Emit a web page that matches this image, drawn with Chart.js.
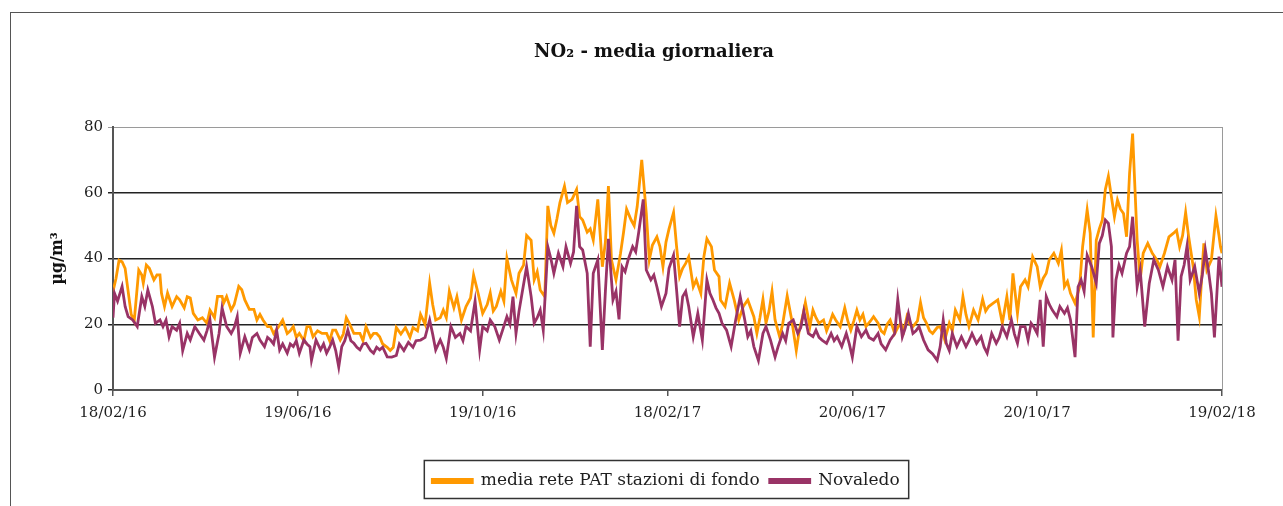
<!DOCTYPE html>
<html lang="it">
<head>
<meta charset="utf-8">
<title>NO2 - media giornaliera</title>
<script src="https://cdn.jsdelivr.net/npm/chart.js@4.4.1/dist/chart.umd.min.js"></script>
<style>
  html, body { margin: 0; padding: 0; background: #fff; overflow: hidden; width: 1283px; height: 506px; }
  #cornice { position: absolute; left: 10px; top: 12px; width: 1300px; height: 520px; border: 1px solid #555; }
  #box { position: absolute; left: 0; top: 0; width: 1283px; height: 506px; }
</style>
</head>
<body>
<div id="cornice"></div>
<div id="box"><canvas id="grafico"></canvas></div>
<script>
// asse x: giorni dal 18/02/16
const tickGiorni = [0, 122, 244, 366, 488, 610, 732];
const etichetteX = ["18/02/16", "19/06/16", "19/10/16", "18/02/17", "20/06/17", "20/10/17", "19/02/18"];

// media rete PAT stazioni di fondo
const giorniRete = [
  0, 2, 4, 6, 8, 10, 12, 14, 17, 19, 20, 22, 24, 27, 29, 31, 32, 34, 36, 39,
  42, 44, 47, 49, 51, 53, 56, 59, 62, 64, 67, 69, 72, 73, 75, 78, 80, 83, 85, 87,
  90, 93, 95, 97, 99, 102, 104, 106, 109, 112, 115, 117, 119, 121, 123, 126, 128, 130, 132, 135,
  138, 141, 143, 145, 147, 150, 152, 154, 156, 159, 163, 165, 167, 170, 172, 174, 176, 178, 181, 183,
  185, 187, 190, 193, 196, 198, 201, 203, 206, 209, 211, 213, 216, 218, 220, 222, 225, 227, 230, 233,
  236, 238, 241, 244, 247, 249, 251, 253, 256, 258, 260, 263, 266, 268, 271, 273, 276, 278, 280, 282,
  285, 287, 289, 291, 293, 295, 298, 300, 303, 306, 308, 310, 313, 315, 317, 320, 323, 325, 327, 329,
  332, 335, 337, 339, 342, 344, 346, 349, 352, 354, 356, 359, 361, 363, 365, 367, 370, 372, 374, 376,
  378, 380, 383, 385, 388, 390, 392, 395, 397, 400, 401, 404, 407, 410, 413, 416, 419, 423, 425, 427,
  429, 431, 433, 435, 437, 440, 442, 445, 448, 451, 453, 455, 457, 460, 462, 464, 466, 469, 471, 473,
  475, 477, 480, 483, 485, 487, 489, 491, 493, 495, 497, 500, 502, 505, 507, 509, 511, 513, 516, 518,
  520, 522, 524, 526, 528, 531, 533, 535, 537, 539, 541, 544, 546, 549, 552, 554, 556, 559, 561, 563,
  565, 568, 571, 574, 576, 578, 581, 584, 587, 590, 592, 594, 597, 599, 602, 604, 607, 610, 612, 614,
  616, 618, 621, 624, 626, 628, 630, 632, 635, 638, 640, 643, 645, 647, 649, 651, 653, 655, 657, 659,
  661, 663, 665, 667, 669, 671, 673, 676, 678, 680, 683, 686, 689, 691, 694, 697, 700, 702, 704, 706,
  708, 710, 713, 715, 717, 720, 722, 725, 728, 730, 731, 732
];
const valoriRete = [
  30, 34, 39.5, 39, 37, 30, 23, 21, 36.5, 35, 32.5, 38, 37, 33.5, 35, 35, 29.4, 25.4, 29.5, 25.4,
  28.4, 27.4, 25, 28.4, 28, 23.3, 21.3, 22, 20.3, 24.3, 22, 28.5, 28.5, 26.4, 28.4, 24.3, 26, 31.5, 30.5, 27.4,
  24.5, 24.5, 21.3, 23, 21.3, 19.3, 19.3, 17.2, 19, 21.3, 17.2, 18, 19.3, 16, 17.2, 15, 19.3, 19.3, 16.2, 18,
  17.2, 17.2, 15, 18.2, 18.2, 15.2, 17, 22, 20.3, 17.2, 17.2, 15, 19.3, 16, 17.2, 17.2, 16.2, 14, 13, 12,
  13, 19, 17, 19, 16, 19, 18, 23, 20, 32.5, 26, 21.3, 22, 24.3, 22, 30, 25, 28.4, 21.3, 25.4,
  28, 35, 29.4, 23.3, 26, 29.5, 24, 25.4, 30, 27, 40, 33.5, 29.4, 35.5, 38, 47, 45.5, 33.5, 36, 30.4,
  28.4, 56, 50, 47.7, 52, 57, 62, 57, 58, 61, 52.7, 51.7, 48, 49, 45.6, 58, 37.5, 45, 62, 39.6,
  33.5, 41.6, 48, 55, 51.7, 50, 55.8, 70, 53.7, 39.6, 44, 46.6, 43.6, 37.5, 45, 49, 54, 43.6, 34.5, 37,
  38.5, 40.5, 31.4, 33.5, 29.4, 40.5, 46, 43.6, 36.5, 34.5, 27.4, 25.4, 32.5, 27.4, 21.3, 25.4, 27.4, 22.3, 17.2, 22,
  27.6, 20.3, 24, 30, 21.3, 16.2, 20, 28.6, 21.3, 12, 18.2, 22, 26.6, 19.3, 24.3, 22, 20.3, 21.3, 18, 20.3,
  23, 21.3, 19.3, 25, 21, 18.2, 21, 24.3, 21.3, 23, 19.3, 21, 22.3, 20.3, 18, 17.2, 20, 21.3, 17.2, 19,
  20.3, 18, 22.3, 20, 19.3, 21, 26.6, 22, 20.3, 18, 17.2, 19, 19.3, 15.2, 20.3, 18, 24.3, 21.3, 28.4, 23,
  19.3, 24.3, 21.3, 27.6, 24, 25.4, 26.4, 27.4, 20.3, 28.4, 21.3, 35.5, 23.3, 31.4, 33.5, 31.4, 40.5, 37.5, 31.4, 34,
  35.5, 39.6, 41.6, 38.5, 42.5, 31.4, 33, 29.4, 26.4, 31.4, 43.6, 54.8, 47.7, 16, 45.6, 49, 51.7, 61, 65, 58.8,
  52.7, 57.8, 55, 53.7, 46.6, 66, 78, 45.6, 33.5, 41.6, 44.6, 41.6, 39.6, 37.5, 41.6, 46.6, 47.7, 48.6, 43.6, 47,
  54, 46.6, 37.5, 27.4, 22.3, 44.6, 36.5, 39.6, 53, 47, 43.6, 41.6
];

// Novaledo
const giorniNovaledo = [
  0, 1, 3, 6, 8, 10, 13, 16, 19, 21, 23, 26, 28, 31, 33, 35, 37, 39, 42, 44,
  46, 49, 51, 54, 57, 60, 62, 64, 67, 70, 72, 75, 78, 80, 82, 84, 87, 90, 92, 95,
  97, 100, 102, 104, 106, 108, 110, 112, 115, 117, 119, 121, 123, 126, 128, 130, 131, 134, 137, 139,
  141, 143, 145, 147, 149, 151, 153, 155, 157, 159, 161, 163, 165, 167, 170, 172, 174, 176, 178, 181,
  184, 187, 189, 192, 195, 198, 200, 203, 206, 209, 211, 213, 216, 218, 220, 223, 226, 229, 231, 233,
  236, 239, 242, 244, 247, 249, 252, 255, 257, 260, 262, 264, 266, 268, 270, 273, 276, 278, 280, 282,
  284, 287, 289, 291, 294, 297, 299, 302, 304, 306, 308, 310, 313, 315, 317, 320, 323, 325, 327, 330,
  332, 334, 336, 338, 340, 343, 345, 347, 350, 352, 355, 357, 359, 362, 365, 367, 370, 372, 374, 376,
  378, 380, 383, 386, 389, 392, 394, 396, 398, 400, 402, 405, 408, 411, 414, 417, 419, 421, 423, 426,
  429, 431, 434, 437, 439, 442, 444, 446, 449, 452, 454, 456, 459, 462, 464, 466, 468, 471, 474, 476,
  478, 481, 484, 486, 488, 491, 494, 497, 499, 502, 505, 507, 510, 513, 516, 518, 521, 523, 525, 528,
  530, 532, 535, 538, 541, 544, 546, 548, 550, 552, 554, 557, 560, 563, 565, 567, 570, 573, 575, 577,
  580, 583, 585, 587, 590, 593, 595, 597, 599, 602, 604, 606, 608, 610, 612, 614, 616, 618, 620, 623,
  625, 628, 630, 632, 635, 637, 639, 641, 643, 646, 649, 651, 653, 655, 657, 659, 660, 662, 664, 666,
  669, 671, 673, 676, 678, 681, 684, 687, 690, 693, 696, 699, 701, 703, 705, 707, 709, 711, 714, 717,
  719, 721, 723, 725, 727, 730, 732
];
const valoriNovaledo = [
  22, 29.4, 27, 31.5, 25.4, 22.3, 21.3, 19.3, 28.4, 25.4, 30.4, 25.4, 20.3, 21.3, 19.3, 21.3, 16.2, 19.3, 18.2, 20.3,
  12, 17.2, 15.2, 19.3, 17.2, 15.2, 18, 21.3, 10, 17.2, 25, 19.3, 17.2, 19, 22.3, 11.2, 16.2, 12.2, 16, 17.2,
  15.2, 13.2, 16, 15.2, 14, 18.2, 12.2, 14, 11.2, 14, 13.2, 15, 11.2, 15.2, 14, 13.2, 9, 15.2, 12.2, 14,
  11.2, 13, 15.2, 12, 7, 13.2, 15, 18.2, 15, 14.2, 13, 12.2, 14, 14.2, 12, 11.2, 13, 12.2, 13, 10.1,
  10, 10.5, 14, 12, 14.5, 13, 15, 15.2, 16, 21.3, 17, 12.2, 15.2, 13, 9.6, 19.3, 16, 17.2, 15, 19.3,
  18, 27, 12.2, 19.3, 18, 21.3, 19.3, 15.2, 18, 22.3, 20, 28.4, 17.2, 24, 29.4, 37.5, 28.4, 20.3, 22, 24.3,
  18.2, 43.6, 40, 35.5, 41.6, 37.5, 43.6, 38.5, 42, 56, 43.6, 42.6, 35.5, 13.2, 35.5, 39.6, 12.2, 30, 46, 27.4,
  30, 21.5, 37.5, 36, 39.6, 43.6, 42, 48, 58, 36.5, 33.5, 35, 31.4, 25.4, 29.4, 37, 41, 30.4, 19.3, 28.4,
  30, 25.4, 16.2, 23.3, 15.2, 33.5, 29.4, 27.4, 25, 23.3, 20.3, 18.2, 13.2, 21.3, 28.4, 21.3, 16.2, 18, 13.2, 9,
  17.2, 19.3, 15.2, 10, 13.2, 17.2, 15, 20.3, 21.3, 17.2, 19, 24, 17.2, 16.2, 18.2, 16, 15.2, 14.2, 17.2, 15,
  16.2, 13.2, 17.2, 14, 10, 19.3, 16.2, 18.2, 16, 15.2, 17.2, 14, 12.2, 15.2, 17.2, 27.5, 16.2, 19, 23.3, 17.2,
  18, 19.3, 15.2, 12.2, 11, 9, 13.2, 21.3, 14.2, 12, 17.2, 13.2, 16.2, 13.2, 15, 17.2, 14.2, 16.2, 13, 11.2,
  17.2, 14.2, 16, 19.3, 16.2, 21.3, 17, 14.2, 19.3, 19.3, 15.2, 20.3, 19, 17.2, 27.4, 13.2, 28.4, 26, 24.3, 22.3,
  25.4, 23.3, 25, 21.3, 10, 31.4, 33.5, 30, 41, 37.5, 32.5, 44.6, 47, 51.7, 50.7, 43.6, 16, 33.5, 38, 35.5,
  41.6, 43.6, 52.7, 31.4, 36.5, 19.3, 32.5, 39.6, 36.5, 31.4, 37.5, 33.5, 39.6, 15, 34.5, 38, 44, 33.5, 37.5, 29.4,
  35, 42.6, 36.5, 29.4, 16, 40.6, 31.4
];

const serif = "'DejaVu Serif', 'Liberation Serif', serif";
const coloreTesto = "#1e1e1e";

const punti = (giorni, valori) => giorni.map((g, i) => ({ x: g, y: valori[i] }));

// sposta titolo e legenda come nel grafico Excel, e disegna i riquadri
const ritocchi = {
  id: "ritocchi",
  afterLayout(chart) {
    const t = chart.titleBlock;
    const dt = 654 - (t.left + t.right) / 2;
    t.left += dt; t.right += dt;
    const lg = chart.legend;
    const dl = 666 - (lg.left + lg.right) / 2;
    lg.left += dl; lg.right += dl;
  },
  beforeDatasetsDraw(chart) {
    const { ctx, chartArea: a } = chart;
    ctx.save();
    ctx.strokeStyle = "#9a9a9a";
    ctx.lineWidth = 1;
    ctx.beginPath();
    ctx.moveTo(a.right + 0.5, a.top);
    ctx.lineTo(a.right + 0.5, a.bottom);
    ctx.stroke();
    ctx.restore();
  },
  afterDraw(chart) {
    const lg = chart.legend;
    const hb = lg.legendHitBoxes;
    if (!hb || !hb.length) return;
    const ctx = chart.ctx;
    const l = hb[0].left - 8;
    const r = hb[hb.length - 1].left + hb[hb.length - 1].width + 9;
    ctx.save();
    ctx.strokeStyle = "#333";
    ctx.lineWidth = 1.5;
    ctx.strokeRect(l, lg.top - 2, r - l, lg.bottom - lg.top + 1);
    ctx.restore();
  }
};

const ctx = document.getElementById("grafico").getContext("2d");
new Chart(ctx, {
  type: "line",
  data: {
    datasets: [
      {
        label: "media rete PAT stazioni di fondo",
        data: punti(giorniRete, valoriRete),
        borderColor: "#FF9900",
        backgroundColor: "#FF9900",
        borderWidth: 2.8,
        pointRadius: 0,
        tension: 0,
        order: 1
      },
      {
        label: "Novaledo",
        data: punti(giorniNovaledo, valoriNovaledo),
        borderColor: "#993366",
        backgroundColor: "#993366",
        borderWidth: 2.8,
        pointRadius: 0,
        tension: 0,
        order: 0 // sopra la linea arancione
      }
    ]
  },
  options: {
    responsive: true,
    maintainAspectRatio: false,
    animation: false,
    layout: { padding: { top: 42, right: 61, bottom: 6.5, left: 0 } },
    plugins: {
      title: {
        display: true,
        text: "NO₂ - media giornaliera",
        color: "#111",
        font: { family: serif, size: 18, weight: "bold" },
        padding: { top: 0, bottom: 63.4 }
      },
      legend: {
        position: "bottom",
        labels: {
          boxWidth: 40,
          boxHeight: 3,
          padding: 10,
          color: coloreTesto,
          font: { family: serif, size: 17 },
          sort: (a, b) => a.datasetIndex - b.datasetIndex
        }
      },
      tooltip: { enabled: false }
    },
    scales: {
      x: {
        type: "linear",
        min: 0,
        max: 732,
        afterBuildTicks: (scale) => { scale.ticks = tickGiorni.map((v) => ({ value: v })); },
        afterFit: (scale) => { scale.height = 72.5; },
        ticks: {
          autoSkip: false,
          maxRotation: 0,
          padding: 8,
          color: coloreTesto,
          font: { family: serif, size: 15 },
          callback: (v) => etichetteX[tickGiorni.indexOf(v)]
        },
        grid: { drawOnChartArea: false, tickLength: 6, color: "#555", lineWidth: 1.5 },
        border: { color: "#555", width: 2 }
      },
      y: {
        min: 0,
        max: 80,
        afterFit: (scale) => { scale.width = 113; },
        ticks: {
          stepSize: 20,
          padding: 5,
          color: coloreTesto,
          font: { family: serif, size: 15 }
        },
        grid: {
          tickLength: 5,
          color: (c) => (c.tick && c.tick.value === 80 ? "#9a9a9a" : "#222"),
          lineWidth: (c) => (c.tick && c.tick.value === 80 ? 1 : 1.5)
        },
        border: { color: "#555", width: 2 },
        title: {
          display: true,
          text: "µg/m³",
          color: "#111",
          font: { family: serif, size: 16, weight: "bold" },
          padding: { top: 48, bottom: 0 }
        }
      }
    }
  },
  plugins: [ritocchi]
});
</script>
</body>
</html>
